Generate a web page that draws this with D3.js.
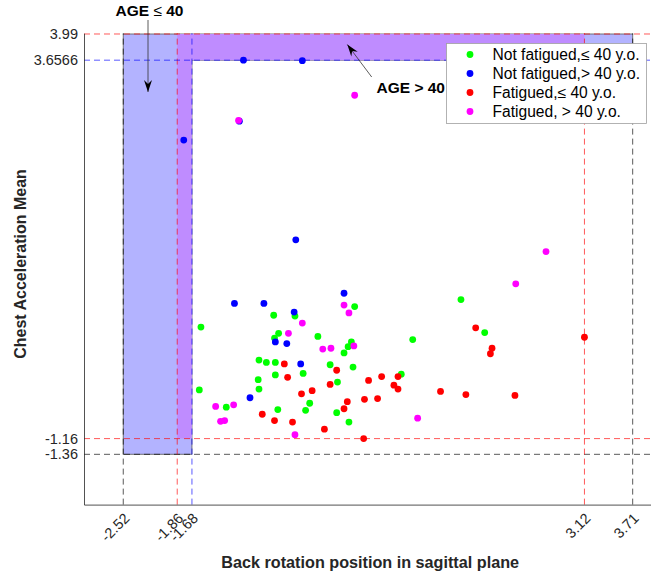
<!DOCTYPE html>
<html>
<head>
<meta charset="utf-8">
<script src="https://cdn.jsdelivr.net/npm/d3@7"></script>
<style>
  html, body { margin: 0; padding: 0; background: #fff; }
  svg { display: block; font-family: "Liberation Sans", Arial, Helvetica, sans-serif; }
</style>
</head>
<body>
<div id="chart"></div>
<script>
// ---------- data ----------
const categories = ["Not fatigued,≤ 40 y.o.", "Not fatigued,> 40 y.o.", "Fatigued,≤ 40 y.o.", "Fatigued, > 40 y.o."];
const categoryColors = ["#00ff00", "#0000ff", "#ff0000", "#ff00ff"];

const notFatYoungX = [0.31,-0.68,-0.42,-1.57,-0.62,-0.67,-0.14,0.27,0.23,0.18,1.02,-0.86,-0.77,-0.66,0.01,0.29,-0.66,-0.32,-0.87,0.10,0.88,-0.86,-1.59,-0.24,-0.29,-1.26,-0.63,0.09,0.24,1.61,1.90];
const notFatYoungY = [0.52,0.41,0.40,0.26,0.18,0.12,0.14,0.07,0.01,-0.07,0.10,-0.16,-0.19,-0.19,-0.22,-0.25,-0.35,-0.33,-0.41,-0.44,-0.34,-0.53,-0.54,-0.71,-0.80,-0.76,-0.79,-0.83,-0.95,0.61,0.19];

const notFatOldX = [-1.05,-0.33,-1.10,-1.78,-0.41,-1.16,-0.80,0.18,-0.43,-0.66,-0.52,-0.35,-0.97];
const notFatOldY = [3.6566,3.65,2.88,2.64,1.37,0.56,0.56,0.69,0.45,0.07,0.05,-0.21,-0.64];

const fatYoungX = [-0.55,0.09,-0.51,0.01,0.48,0.64,0.84,0.79,0.84,-0.21,-0.34,1.36,0.43,0.59,0.22,0.18,-0.82,-0.67,-0.45,-0.06,0.42,1.79,1.99,1.97,3.12,1.67,2.27];
const fatYoungY = [-0.21,-0.29,-0.38,-0.47,-0.42,-0.37,-0.37,-0.48,-0.53,-0.55,-0.59,-0.56,-0.66,-0.65,-0.69,-0.78,-0.85,-0.93,-0.95,-1.04,-1.16,0.25,-0.01,-0.08,0.13,-0.60,-0.61];

const fatOldX = [0.31,-1.11,2.65,2.28,0.18,0.24,-0.33,-0.50,0.30,-0.08,0.02,-1.39,-1.17,-1.33,-1.28,-0.42,1.08];
const fatOldY = [3.21,2.89,1.22,0.81,0.54,0.44,0.31,0.18,0.02,-0.02,-0.01,-0.75,-0.73,-0.94,-0.93,-1.11,-0.90];

const xTickValues = [-2.52, -1.86, -1.68, 3.12, 3.71];
const xTickLabels = ["-2.52", "-1.86", "-1.68", "3.12", "3.71"];
const yTickValues = [-1.36, -1.16, 3.6566, 3.99];
const yTickLabels = ["-1.36", "-1.16", "3.6566", "3.99"];

// reference lines
const redVLines = [-1.86, 3.12];
const redHLines = [-1.16, 3.99];
const blueVLines = [-1.68];
const blueHLines = [3.6566];
const blackVLines = [-2.52, 3.71];
const blackHLines = [-1.36];

// shaded L-shaped regions (bounds)
const regionYoung = { x0: -2.52, x1: 3.71, y0: -1.36, y1: 3.99, ix: -1.68, iy: 3.6566 };
const regionOld   = { x0: -1.86, x1: 3.12, y0: -1.16, y1: 3.99, ix: -1.68, iy: 3.6566 };

const xDomain = [-3, 4];
const yDomain = [-2, 4];

// ---------- chart ----------
const W = 651, H = 576;
const svg = d3.select("#chart").append("svg").attr("width", W).attr("height", H);

const x = d3.scaleLinear().domain(xDomain).range([84, 656.4]);
const y = d3.scaleLinear().domain(yDomain).range([504.6, 33.2]);

function lPath(r) {
  const pts = [[r.x0, r.y0],[r.x0, r.y1],[r.x1, r.y1],[r.x1, r.iy],[r.ix, r.iy],[r.ix, r.y0]];
  return d3.line().x(d => x(d[0])).y(d => y(d[1]))(pts) + "Z";
}
svg.append("path").attr("d", lPath(regionYoung)).attr("fill", "#b3b3ff").attr("stroke", "#555").attr("stroke-width", 0.8);
svg.append("path").attr("d", lPath(regionOld)).attr("fill", "#bf8cff").attr("stroke", "none");

const dash = "6,4";
const g = svg.append("g");
function vlines(vals, color) {
  g.selectAll(null).data(vals).enter().append("line")
    .attr("x1", d => x(d)).attr("x2", d => x(d))
    .attr("y1", y(yDomain[0])).attr("y2", y(yDomain[1]))
    .attr("stroke", color).attr("stroke-width", 1).attr("stroke-dasharray", dash);
}
function hlines(vals, color) {
  g.selectAll(null).data(vals).enter().append("line")
    .attr("x1", x(xDomain[0])).attr("x2", x(xDomain[1]))
    .attr("y1", d => y(d)).attr("y2", d => y(d))
    .attr("stroke", color).attr("stroke-width", 1).attr("stroke-dasharray", dash);
}
vlines(blackVLines, "rgba(0,0,0,0.65)");
hlines(blackHLines, "rgba(0,0,0,0.65)");
vlines(redVLines, "rgba(255,0,0,0.65)");
hlines(redHLines, "rgba(255,0,0,0.65)");
vlines(blueVLines, "rgba(0,0,255,0.65)");
hlines(blueHLines, "rgba(0,0,255,0.65)");

// axes
const axisColor = "#262626";
const yAxis = svg.append("g").attr("transform", `translate(${x(xDomain[0])},0)`)
  .call(d3.axisLeft(y).tickValues(yTickValues).tickFormat((d, i) => yTickLabels[i]).tickSize(0).tickSizeOuter(0).tickPadding(6));
yAxis.select(".domain").attr("stroke", axisColor).attr("stroke-width", 0.8);
yAxis.selectAll("text").attr("fill", axisColor).style("font-size", "14.5px").style("font-family", '"Liberation Sans", Arial, sans-serif');

const xAxis = svg.append("g").attr("transform", `translate(0,${y(yDomain[0])})`)
  .call(d3.axisBottom(x).tickValues(xTickValues).tickFormat((d, i) => xTickLabels[i]).tickSize(0).tickSizeOuter(0));
xAxis.select(".domain").attr("stroke", axisColor).attr("stroke-width", 0.8);
xAxis.selectAll("text")
  .attr("fill", axisColor).style("font-size", "14.5px").style("font-family", '"Liberation Sans", Arial, sans-serif')
  .attr("x", 0).attr("y", 0).attr("dy", "0.35em")
  .attr("transform", "translate(3,11) rotate(-45)")
  .style("text-anchor", "end");

// points
const series = [
  { xs: notFatYoungX, ys: notFatYoungY },
  { xs: notFatOldX, ys: notFatOldY },
  { xs: fatYoungX, ys: fatYoungY },
  { xs: fatOldX, ys: fatOldY }
];
series.forEach((s, k) => {
  svg.append("g").selectAll("circle").data(s.xs.map((v, i) => [v, s.ys[i]])).enter()
    .append("circle").attr("cx", d => x(d[0])).attr("cy", d => y(d[1])).attr("r", 3.4)
    .attr("fill", categoryColors[k]);
});

// axis titles
svg.append("text").attr("x", (x(xDomain[0]) + x(xDomain[1])) / 2).attr("y", 568)
  .attr("text-anchor", "middle").attr("font-weight", "bold").attr("font-size", "16.2px").attr("fill", axisColor)
  .text("Back rotation position in sagittal plane");
svg.append("text").attr("transform", "translate(26,264) rotate(-90)")
  .attr("text-anchor", "middle").attr("font-weight", "bold").attr("font-size", "16px").attr("fill", axisColor)
  .text("Chest Acceleration Mean");

// annotations with arrows
function arrow(x1, y1, x2, y2) {
  svg.append("line").attr("x1", x1).attr("y1", y1).attr("x2", x2).attr("y2", y2)
    .attr("stroke", "#333").attr("stroke-width", 0.8);
  const dx = x2 - x1, dy = y2 - y1, L = Math.hypot(dx, dy);
  const ux = dx / L, uy = dy / L, px = -uy, py = ux;
  const len = 12, w = 4, notch = 8;
  const bx = x2 - ux * len, by = y2 - uy * len;
  const nx = x2 - ux * notch, ny = y2 - uy * notch;
  svg.append("path")
    .attr("d", `M${x2},${y2}L${bx + px * w},${by + py * w}L${nx},${ny}L${bx - px * w},${by - py * w}Z`)
    .attr("fill", "#000");
}
svg.append("text").attr("x", 149.5).attr("y", 16).attr("text-anchor", "middle")
  .attr("font-size", "15.5px").attr("fill", "#000")
  .call(t => {
    t.append("tspan").attr("font-weight", "bold").text("AGE ");
    t.append("tspan").text("≤");
    t.append("tspan").attr("font-weight", "bold").text(" 40");
  });
arrow(148, 20, 148, 92);

svg.append("text").attr("x", 376.5).attr("y", 93).attr("text-anchor", "start")
  .attr("font-size", "15.5px").attr("font-weight", "bold").attr("fill", "#000").text("AGE > 40");
arrow(371.7, 77, 347.3, 44.5);

// legend
const lg = svg.append("g");
lg.append("rect").attr("x", 446.5).attr("y", 43.5).attr("width", 200).attr("height", 80)
  .attr("fill", "#fff").attr("stroke", "#a0a0a0").attr("stroke-width", 0.8);
const rowY = [54.5, 73.5, 92.5, 111.5];
categories.forEach((c, i) => {
  lg.append("circle").attr("cx", 470).attr("cy", rowY[i]).attr("r", 3.4).attr("fill", categoryColors[i]);
  lg.append("text").attr("x", 492.5).attr("y", rowY[i]).attr("dy", "0.35em")
    .attr("font-size", "15.6px").attr("fill", "#000").text(c);
});
</script>
</body>
</html>
